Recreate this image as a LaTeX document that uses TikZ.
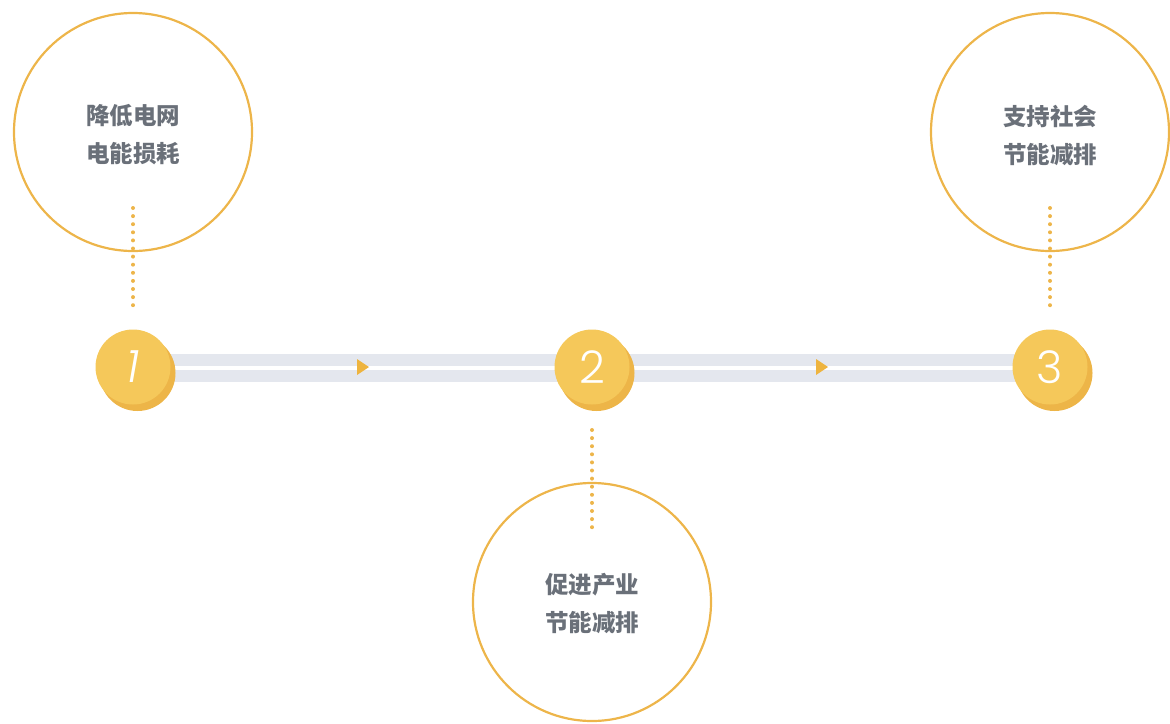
\documentclass[tikz,border=0pt]{standalone}
\usepackage{fontspec}
\newfontfamily\cjk{Noto Sans CJK SC}
\newfontfamily\numfont{Poppins}[UprightFont=* Light, ItalicFont=* Light Italic]
\definecolor{ring}{HTML}{EDB54A}
\definecolor{ballc}{HTML}{F5C85A}
\definecolor{shadowc}{HTML}{EDB548}
\definecolor{barc}{HTML}{E4E7EE}
\definecolor{txtc}{HTML}{6A7079}
\definecolor{arrowc}{HTML}{EEB43F}
\begin{document}
\begin{tikzpicture}[x=1pt,y=-1pt,
  bigc/.style={circle,draw=ring,line width=2.2pt,minimum size=238pt,inner sep=0pt},
  bigtxt/.style={text=txtc,align=center,inner sep=0pt,
    font=\cjk\bfseries\fontsize{23.5}{38}\selectfont},
  ball/.style={circle,fill=ballc,minimum size=75pt,inner sep=0pt,text=white,
    font=\numfont\fontsize{45}{45}\selectfont},
  dots/.style={draw=ring,line width=4pt,line cap=round,dash pattern=on 0pt off 8.1pt},
  barfill/.style={fill=barc},
  tri/.style={fill=arrowc}]
\useasboundingbox (0,0) rectangle (1170,723);
% bars
\coordinate (b1) at (165,354);
\coordinate (b2) at (1030,366);
\coordinate (b3) at (165,370);
\coordinate (b4) at (1030,382);
\fill[barfill] (b1) rectangle (b2);
\fill[barfill] (b3) rectangle (b4);
% arrows
\fill[tri] (357,359) -- (369,367) -- (357,375) -- cycle;
\fill[tri] (816,359) -- (828,367) -- (816,375) -- cycle;
% shadows
\fill[shadowc] (137.5,373) circle (38);
\fill[shadowc] (596.5,373) circle (38);
\fill[shadowc] (1054.5,373) circle (38);
% balls
\node[ball] (n1) at (133,367) {\itshape 1};
\node[ball] (n2) at (592,367) {2};
\node[ball] (n3) at (1050,367) {3};
% big circles
\node[bigc] (c1) at (133,132) {};
\node[bigc] (c3) at (1050,132) {};
\node[bigc] (c2) at (592,602) {};
\node[bigtxt] (t1) at (133,135) {降低电网\\电能损耗};
\node[bigtxt] (t3) at (1050,135) {支持社会\\节能减排};
\node[bigtxt] (t2) at (592,604) {促进产业\\节能减排};
% dotted connectors
\coordinate (d1a) at (133,208);
\coordinate (d1b) at (133,306);
\coordinate (d2a) at (592,430);
\coordinate (d2b) at (592,528);
\coordinate (d3a) at (1050,208);
\coordinate (d3b) at (1050,306);
\draw[dots] (d1a) -- (d1b);
\draw[dots] (d2a) -- (d2b);
\draw[dots] (d3a) -- (d3b);
\end{tikzpicture}
\end{document}
